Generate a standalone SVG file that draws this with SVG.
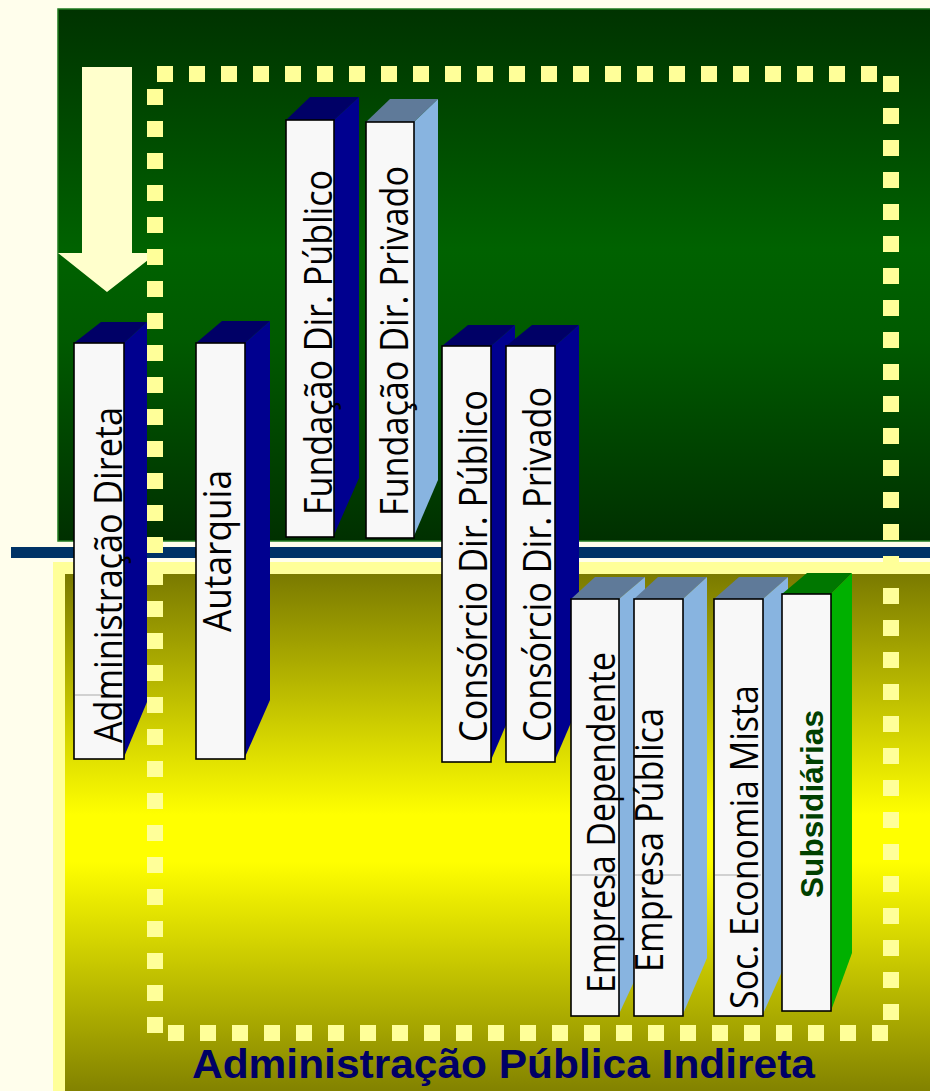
<svg xmlns="http://www.w3.org/2000/svg" width="930" height="1091" viewBox="0 0 930 1091">
<defs>
<linearGradient id="gGreen" x1="0" y1="0" x2="0" y2="1">
<stop offset="0" stop-color="#003300"/>
<stop offset="0.45" stop-color="#006200"/>
<stop offset="0.62" stop-color="#005A00"/>
<stop offset="1" stop-color="#003000"/>
</linearGradient>
<linearGradient id="gYellow" x1="0" y1="0" x2="0" y2="1">
<stop offset="0" stop-color="#7A7A00"/>
<stop offset="0.46" stop-color="#FFFF00"/>
<stop offset="0.55" stop-color="#FFFF00"/>
<stop offset="1" stop-color="#7F7F00"/>
</linearGradient>
</defs>
<style>
.front{fill:#F8F8F8;stroke:#000;stroke-width:1.6}
.topN{fill:#000066}
.sideN{fill:#00008F}
.topL{fill:#5F7A99}
.sideL{fill:#88B4E0}
.topG{fill:#007700}
.sideG{fill:#00B000}
.lbl{font-family:"Open Sans","DejaVu Sans",sans-serif;font-size:38px;fill:#000}
.lblB{font-family:"Liberation Sans",Arial,sans-serif;font-size:32px;font-weight:bold;fill:#004000}
.dots{stroke:#FFFF99;stroke-width:16;stroke-dasharray:16 16;fill:none}
.art{stroke:#AAAAAA;stroke-width:1}
</style>
<rect x="0" y="0" width="930" height="1091" fill="#FFFEEC"/>
<rect x="58" y="9" width="880" height="532" fill="url(#gGreen)" stroke="#1E7A1E" stroke-width="1.5"/>
<rect x="11" y="547" width="925" height="11" fill="#003366"/>
<rect x="53" y="562" width="885" height="535" fill="#FFFF99"/>
<rect x="65" y="574" width="873" height="523" fill="url(#gYellow)"/>

<g id="connectors">
<polygon points="82,67 132,67 132,253 157,253 107,292 58,253 82,253" fill="#FFFFCC"/>
</g>

<g id="dotted-frame">
<line class="dots" x1="157" y1="74" x2="877" y2="74"/>
<line class="dots" x1="891" y1="76" x2="891" y2="1020"/>
<line class="dots" x1="155" y1="89" x2="155" y2="1033"/>
<line class="dots" x1="168" y1="1033" x2="889" y2="1033"/>
</g>

<g id="bar-administracao-direta">
<polygon class="topN" points="74,343 101,322 147,322 124,343"/>
<polygon class="sideN" points="124,343 147,322 147,702 124,757"/>
<rect class="front" x="74" y="343" width="50" height="416"/>
<line class="art" x1="75" y1="695" x2="121" y2="695"/>
<text class="lbl" transform="translate(122,743) rotate(-90)" textLength="336" lengthAdjust="spacingAndGlyphs">Administração Direta</text>
</g>

<g id="bar-autarquia">
<polygon class="topN" points="196,343 222,321 270,321 245,343"/>
<polygon class="sideN" points="245,343 270,321 270,700 245,757"/>
<rect class="front" x="196" y="343" width="49" height="416"/>
<text class="lbl" transform="translate(231,632) rotate(-90)" textLength="162" lengthAdjust="spacingAndGlyphs">Autarquia</text>
</g>

<g id="bar-fundacao-publico">
<polygon class="topN" points="286,120 310,97 359,97 334,120"/>
<polygon class="sideN" points="334,120 359,97 359,478 334,535"/>
<rect class="front" x="286" y="120" width="48" height="417"/>
<text class="lbl" transform="translate(332,515) rotate(-90)" textLength="345" lengthAdjust="spacingAndGlyphs">Fundação Dir. Público</text>
</g>

<g id="bar-fundacao-privado">
<polygon class="topL" points="366,122 390,99 438,99 414,122"/>
<polygon class="sideL" points="414,122 438,99 438,480 414,536"/>
<rect class="front" x="366" y="122" width="48" height="416"/>
<text class="lbl" transform="translate(408,516) rotate(-90)" textLength="350" lengthAdjust="spacingAndGlyphs">Fundação Dir. Privado</text>
</g>

<g id="bar-consorcio-publico">
<polygon class="topN" points="442,346 468,325 515,325 491,346"/>
<polygon class="sideN" points="491,346 515,325 515,704 491,760"/>
<rect class="front" x="442" y="346" width="49" height="416"/>
<text class="lbl" transform="translate(487,742) rotate(-90)" textLength="352" lengthAdjust="spacingAndGlyphs">Consórcio Dir. Público</text>
</g>

<g id="bar-consorcio-privado">
<polygon class="topN" points="506,346 532,325 579,325 555,346"/>
<polygon class="sideN" points="555,346 579,325 579,704 555,760"/>
<rect class="front" x="506" y="346" width="49" height="416"/>
<text class="lbl" transform="translate(551,742) rotate(-90)" textLength="355" lengthAdjust="spacingAndGlyphs">Consórcio Dir. Privado</text>
</g>

<g id="bar-empresa-dependente">
<polygon class="topL" points="571,599 595,577 645,577 619,599"/>
<polygon class="sideL" points="619,599 645,577 645,958 619,1014"/>
<rect class="front" x="571" y="599" width="48" height="417"/>
<line class="art" x1="572" y1="875" x2="617" y2="875"/>
<text class="lbl" transform="translate(615,993) rotate(-90)" textLength="341" lengthAdjust="spacingAndGlyphs">Empresa Dependente</text>
</g>

<g id="bar-empresa-publica">
<polygon class="topL" points="634,599 658,577 707,577 683,599"/>
<polygon class="sideL" points="683,599 707,577 707,958 683,1014"/>
<rect class="front" x="634" y="599" width="49" height="417"/>
<line class="art" x1="635" y1="875" x2="681" y2="875"/>
<text class="lbl" transform="translate(663,972) rotate(-90)" textLength="264" lengthAdjust="spacingAndGlyphs">Empresa Pública</text>
</g>

<g id="bar-soc-economia-mista">
<polygon class="topL" points="714,599 739,577 788,577 763,599"/>
<polygon class="sideL" points="763,599 788,577 788,958 763,1014"/>
<rect class="front" x="714" y="599" width="49" height="417"/>
<line class="art" x1="715" y1="875" x2="761" y2="875"/>
<text class="lbl" transform="translate(758,1009) rotate(-90)" textLength="324" lengthAdjust="spacingAndGlyphs">Soc. Economia Mista</text>
</g>

<g id="bar-subsidiarias">
<polygon class="topG" points="782,594 807,573 852,573 831,594"/>
<polygon class="sideG" points="831,594 852,573 852,953 832,1008"/>
<rect class="front" x="782" y="594" width="49" height="417"/>
<text class="lblB" transform="translate(823,898) rotate(-90)" textLength="188" lengthAdjust="spacingAndGlyphs">Subsidiárias</text>
</g>

<g id="title">
<text x="192" y="1078" font-family="'Liberation Sans',Arial,sans-serif" font-size="40" font-weight="bold" fill="#000066" textLength="623" lengthAdjust="spacingAndGlyphs">Administração Pública Indireta</text>
</g>
</svg>
